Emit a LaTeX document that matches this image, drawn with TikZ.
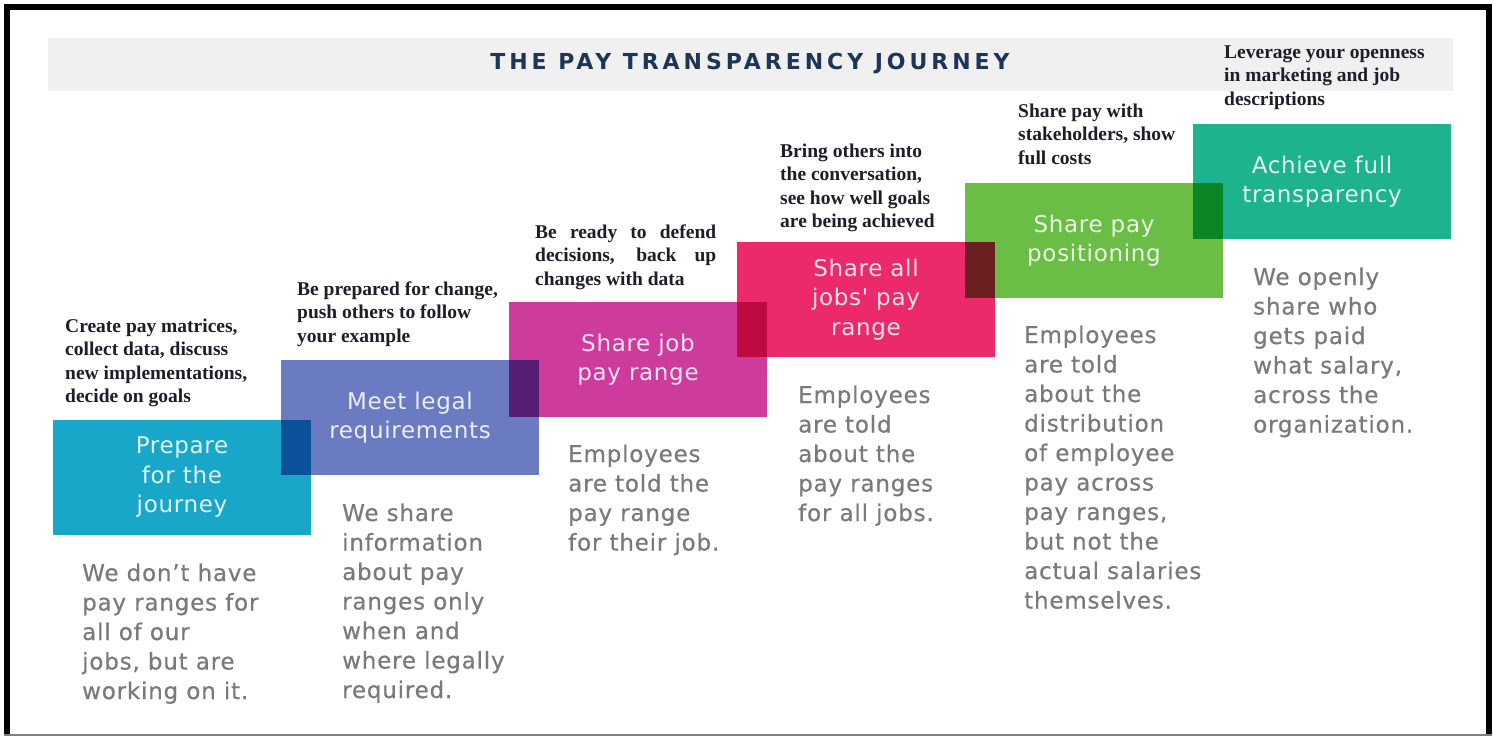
\documentclass[tikz,border=0pt]{standalone}
\usepackage{fontspec}
\setmainfont{Liberation Serif}
\newfontfamily\grotbox[LetterSpace=3]{DejaVu Sans}
\newfontfamily\grotdsc[LetterSpace=3.5,FakeBold=0.5]{DejaVu Sans}
\newfontfamily\grottitle[LetterSpace=18]{DejaVu Sans}
\newcommand\ntfont{\fontsize{19.5}{23.5}\selectfont\bfseries}
\newcommand\dscfont{\grotdsc\fontsize{23}{29.5}\selectfont}

% step colours
\definecolor{cPrep}{HTML}{19A7C9}
\definecolor{cLegal}{HTML}{6A7BC2}
\definecolor{cJob}{HTML}{CD3B9C}
\definecolor{cAll}{HTML}{EC2A6B}
\definecolor{cPos}{HTML}{6ABD45}
\definecolor{cFull}{HTML}{1CB38E}
% where two steps overlap (multiplied colours)
\definecolor{oPL}{HTML}{0A5199}
\definecolor{oLJ}{HTML}{561D74}
\definecolor{oJA}{HTML}{BE0A41}
\definecolor{oAP}{HTML}{6C1F20}
\definecolor{oPF}{HTML}{0C8526}
\definecolor{titlecol}{HTML}{1E3556}
\definecolor{notecol}{HTML}{1E1E2A}
\definecolor{desccol}{HTML}{7A7A7A}
\definecolor{barcol}{HTML}{F0F0F0}

\tikzset{
  stepbox/.style={fill=#1, text=white!86!#1, minimum width=258pt, minimum height=115pt,
    inner sep=0pt, align=center, font={\grotbox\fontsize{23}{29.5}\selectfont}},
  note/.style={anchor=base west, inner sep=0pt, text=notecol},
  desc/.style={anchor=base west, inner sep=0pt, text=desccol},
}

\begin{document}
\begin{tikzpicture}[x=1pt,y=-1pt]
\useasboundingbox (0,0) rectangle (1494,736);
\fill[white] (0,0) rectangle (1494,736);

% heading bar
\fill[barcol] (48,38) rectangle (1453,91);
\node[text=titlecol, font={\grottitle\bfseries\fontsize{22}{26}\selectfont}] (title) at (750,64) {THE PAY TRANSPARENCY JOURNEY};

% the six steps
\node[stepbox=cPrep]  (prep)  at (182,477.5) {Prepare\\for the\\journey};
\node[stepbox=cLegal] (legal) at (410,417.5) {Meet legal\\requirements};
\node[stepbox=cJob]   (job)   at (638,359.5) {Share job\\pay range};
\node[stepbox=cAll]   (allj)  at (866,299.5) {Share all\\jobs' pay\\range};
\node[stepbox=cPos]   (pos)   at (1094,240.5) {Share pay\\positioning};
\node[stepbox=cFull]  (full)  at (1322,181.5) {Achieve full\\transparency};

% overlapping corners
\fill[oPL] (legal.west |- prep.north) rectangle (prep.east |- legal.south);
\fill[oLJ] (job.west |- legal.north) rectangle (legal.east |- job.south);
\fill[oJA] (allj.west |- job.north) rectangle (job.east |- allj.south);
\fill[oAP] (pos.west |- allj.north) rectangle (allj.east |- pos.south);
\fill[oPF] (full.west |- pos.north) rectangle (pos.east |- full.south);

% actions above each step
\node[note] (a1) at (65,332) {\parbox[t]{250pt}{\ntfont\raggedright Create pay matrices,\\collect data, discuss\\new implementations,\\decide on goals}};
\node[note] (a2) at (297,295) {\parbox[t]{250pt}{\ntfont\raggedright Be prepared for change,\\push others to follow\\your example}};
\node[note] (a3) at (535,238) {\parbox[t]{181pt}{\ntfont Be ready to defend\linebreak decisions, back up\linebreak changes with data}};
\node[note] (a4) at (780,157) {\parbox[t]{250pt}{\ntfont\raggedright Bring others into\\the conversation,\\see how well goals\\are being achieved}};
\node[note] (a5) at (1018,117) {\parbox[t]{250pt}{\ntfont\raggedright Share pay with\\stakeholders, show\\full costs}};
\node[note] (a6) at (1224,58) {\parbox[t]{250pt}{\ntfont\raggedright Leverage your openness\\in marketing and job\\descriptions}};

% what each step means
\node[desc] (d1) at (82,581) {\parbox[t]{250pt}{\dscfont\raggedright We don’t have\\pay ranges for\\all of our\\jobs, but are\\working on it.}};
\node[desc] (d2) at (342,521) {\parbox[t]{250pt}{\dscfont\raggedright We share\\information\\about pay\\ranges only\\when and\\where legally\\required.}};
\node[desc] (d3) at (568,462) {\parbox[t]{250pt}{\dscfont\raggedright Employees\\are told the\\pay range\\for their job.}};
\node[desc] (d4) at (798,403) {\parbox[t]{250pt}{\dscfont\raggedright Employees\\are told\\about the\\pay ranges\\for all jobs.}};
\node[desc] (d5) at (1024,343) {\parbox[t]{250pt}{\dscfont\raggedright Employees\\are told\\about the\\distribution\\of employee\\pay across\\pay ranges,\\but not the\\actual salaries\\themselves.}};
\node[desc] (d6) at (1253,285) {\parbox[t]{250pt}{\dscfont\raggedright We openly\\share who\\gets paid\\what salary,\\across the\\organization.}};

% frame
\draw[line width=6pt, line cap=rect] (7,735) -- (7,7) -- (1489,7) -- (1489,735);
\draw[gray, line width=1.5pt] (4,735) -- (1492,735);
\end{tikzpicture}
\end{document}
